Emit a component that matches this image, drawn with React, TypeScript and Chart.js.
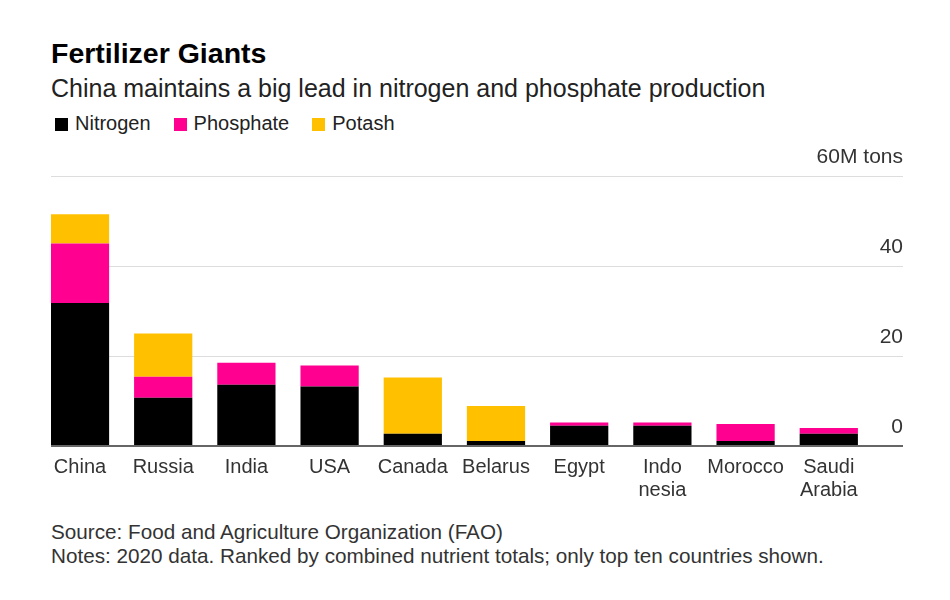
import React, { useEffect, useRef } from "react";
import { Chart, registerables } from "chart.js";

Chart.register(...registerables);

// ---- data ----
const countries: (string | string[])[] = [
  "China",
  "Russia",
  "India",
  "USA",
  "Canada",
  "Belarus",
  "Egypt",
  ["Indo", "nesia"],
  "Morocco",
  ["Saudi", "Arabia"],
];
const nitrogen = [31.8, 10.7, 13.6, 13.2, 2.7, 1.1, 4.5, 4.5, 1.1, 2.7];
const phosphate = [13.2, 4.7, 4.9, 4.7, 0, 0, 0.7, 0.7, 3.8, 1.3];
const potash = [6.5, 9.6, 0, 0, 12.5, 7.8, 0, 0, 0, 0];
const seriesNames = ["Nitrogen", "Phosphate", "Potash"];
const seriesColors = ["#000000", "#ff0090", "#ffc000"];
const yTicks = [0, 20, 40, 60];
const yTickLabels = ["0", "20", "40", "60M tons"];

const FONT = "'Liberation Sans', Arial, Helvetica, sans-serif";

function FertChart() {
  const ref = useRef<HTMLCanvasElement | null>(null);
  useEffect(() => {
    if (!ref.current) return;
    const seriesValues = [nitrogen, phosphate, potash];
    const chart = new Chart(ref.current, {
      type: "bar",
      data: {
        datasets: seriesValues.map((vals, s) => ({
          label: seriesNames[s],
          data: vals.map((v, i) => ({ x: i, y: v })),
          backgroundColor: seriesColors[s],
          borderWidth: 0,
          categoryPercentage: 0.7,
          barPercentage: 1,
        })),
      },
      options: {
        responsive: false,
        animation: false,
        layout: { padding: { left: 51, right: 47, top: 36, bottom: 2 } },
        plugins: {
          legend: { display: false },
          tooltip: { enabled: false },
          title: { display: false },
        },
        scales: {
          x: {
            type: "linear",
            stacked: true,
            offset: false,
            min: -0.3486,
            max: countries.length - 1 + 0.892,
            grid: { display: false, drawTicks: false },
            border: { display: false },
            ticks: {
              stepSize: 1,
              includeBounds: false,
              autoSkip: false,
              maxRotation: 0,
              minRotation: 0,
              padding: 10,
              color: "#333",
              font: { family: FONT, size: 20, lineHeight: 1.15 },
              callback: (v: any) => {
                const k = Math.round(Number(v));
                return countries[k] ?? "";
              },
            },
          },
          y: {
            type: "linear",
            position: "right",
            stacked: true,
            min: 0,
            max: 60,
            border: { display: false },
            grid: {
              drawTicks: false,
              color: (c: any) => (c.tick && c.tick.value === 0 ? "#666666" : "#dddddd"),
              lineWidth: (c: any) => (c.tick && c.tick.value === 0 ? 2 : 1),
            },
            ticks: {
              stepSize: 20,
              mirror: true,
              padding: 0,
              labelOffset: -19,
              color: "#333",
              font: { family: FONT, size: 21 },
              callback: (v: any) => {
                const k = yTicks.indexOf(Number(v));
                return k >= 0 ? yTickLabels[k] : "";
              },
            },
          },
        },
      } as any,
    });
    return () => chart.destroy();
  }, []);
  return (
    <canvas
      ref={ref}
      width={950}
      height={374}
      style={{ position: "absolute", left: 0, top: 140, width: 950, height: 374 }}
    />
  );
}

export default function App() {
  const text = (extra: React.CSSProperties): React.CSSProperties => ({
    position: "absolute",
    left: 51,
    lineHeight: 1,
    whiteSpace: "nowrap",
    fontFamily: FONT,
    ...extra,
  });
  return (
    <div
      style={{
        position: "absolute",
        left: 0,
        top: 0,
        width: 950,
        height: 600,
        background: "#ffffff",
        overflow: "hidden",
        fontFamily: FONT,
      }}
    >
      <div style={text({ top: 39, fontSize: 28.5, fontWeight: "bold", color: "#000" })}>
        Fertilizer Giants
      </div>
      <div style={text({ top: 76, fontSize: 25, color: "#222" })}>
        China maintains a big lead in nitrogen and phosphate production
      </div>
      <div
        style={{
          position: "absolute",
          left: 55,
          top: 113,
          display: "flex",
          alignItems: "center",
          fontFamily: FONT,
          fontSize: 20,
          lineHeight: 1,
          color: "#222",
          whiteSpace: "nowrap",
        }}
      >
        {seriesNames.map((n, i) => (
          <div key={n} style={{ display: "flex", alignItems: "center", marginRight: 23 }}>
            <span
              style={{
                display: "inline-block",
                width: 13,
                height: 13,
                background: seriesColors[i],
                marginRight: 7,
                marginTop: 2,
              }}
            />
            <span>{n}</span>
          </div>
        ))}
      </div>
      <FertChart />
      <div style={text({ top: 522, fontSize: 20.7, color: "#333" })}>
        Source: Food and Agriculture Organization (FAO)
      </div>
      <div style={text({ top: 546, fontSize: 20.7, color: "#333" })}>
        Notes: 2020 data. Ranked by combined nutrient totals; only top ten countries shown.
      </div>
    </div>
  );
}
